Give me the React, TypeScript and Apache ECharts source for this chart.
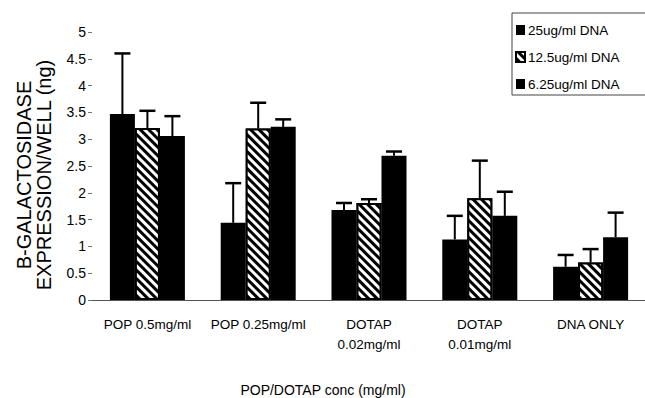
import React, { useEffect, useRef } from "react";
import * as echarts from "echarts";

const categories = ["POP 0.5mg/ml", "POP 0.25mg/ml", "DOTAP\n0.02mg/ml", "DOTAP\n0.01mg/ml", "DNA ONLY"];
const seriesNames = ["25ug/ml DNA", "12.5ug/ml DNA", "6.25ug/ml DNA"];
const means25 = [3.47, 1.44, 1.68, 1.13, 0.62];
const errs25 = [1.13, 0.74, 0.13, 0.44, 0.22];
const means125 = [3.21, 3.2, 1.81, 1.9, 0.7];
const errs125 = [0.32, 0.48, 0.07, 0.7, 0.25];
const means625 = [3.06, 3.23, 2.69, 1.57, 1.17];
const errs625 = [0.37, 0.14, 0.08, 0.45, 0.46];
const yTicks = { min: 0, max: 5, interval: 0.5 };

const FONT = "'Liberation Sans', Arial, sans-serif";
const BAR_W = 25;

export default function App() {
  const ref = useRef<HTMLDivElement>(null);
  useEffect(() => {
    if (!ref.current) return;
    const chart = echarts.init(ref.current, undefined, { renderer: "svg" });
    const allMeans = [means25, means125, means625];
    const allErrs = [errs25, errs125, errs625];
    const offsets = [-BAR_W, 0, BAR_W];
    const hatch = {
      symbol: "rect",
      symbolSize: 1,
      color: "#fff",
      dashArrayX: [1, 0],
      dashArrayY: [3, 2.5],
      rotation: Math.PI / 4,
    };
    const barSeries = allMeans.map((m, k) => ({
      name: seriesNames[k],
      type: "bar",
      data: m,
      barWidth: BAR_W,
      barGap: "0%",
      itemStyle: k === 1
        ? { color: "#000", borderColor: "#000", borderWidth: 2, decal: hatch }
        : { color: "#000" },
      emphasis: { disabled: true },
      z: 2,
    }));
    const errSeries = allMeans.map((m, k) => ({
      name: "err" + k,
      type: "custom",
      z: 3,
      encode: { x: 0, y: [1, 2] },
      data: m.map((v, i) => [i, v, v + allErrs[k][i]]),
      renderItem: (params: any, api: any) => {
        const i = api.value(0);
        const v = api.value(1);
        const top = api.value(2);
        const p0 = api.coord([i, v]);
        const p1 = api.coord([i, top]);
        const cx = p0[0] + offsets[k];
        return {
          type: "group",
          children: [
            { type: "line", shape: { x1: cx, y1: p0[1], x2: cx, y2: p1[1] }, style: { stroke: "#000", lineWidth: 2 } },
            { type: "line", shape: { x1: cx - 8, y1: p1[1], x2: cx + 8, y2: p1[1] }, style: { stroke: "#000", lineWidth: 2.5 } },
          ],
        };
      },
    }));
    chart.setOption({
      animation: false,
      backgroundColor: "#fff",
      textStyle: { fontFamily: FONT },
      grid: { left: 92, right: -1, top: 32, bottom: 98, containLabel: false, outerBoundsMode: "none" },
      legend: {
        data: seriesNames,
        orient: "vertical",
        left: 512,
        top: 13,
        itemWidth: 9,
        itemHeight: 10,
        itemGap: 13,
        icon: "rect",
        borderColor: "#444",
        borderWidth: 1,
        padding: [10, 50, 4, 3],
        textStyle: { fontFamily: FONT, fontSize: 13.5, color: "#000", padding: [0, 0, 0, -2] },
      },
      xAxis: {
        type: "category",
        data: categories,
        name: "POP/DOTAP conc (mg/ml)",
        nameLocation: "middle",
        nameGap: 83,
        nameTextStyle: { fontFamily: FONT, fontSize: 14, color: "#000", padding: [0, 92, 0, 0] },
        axisLine: { lineStyle: { color: "#555", width: 1 } },
        axisTick: { show: false },
        axisLabel: { fontFamily: FONT, fontSize: 13.5, color: "#000", margin: 14, lineHeight: 20, interval: 0 },
      },
      yAxis: {
        type: "value",
        min: yTicks.min,
        max: yTicks.max,
        interval: yTicks.interval,
        name: "B-GALACTOSIDASE\nEXPRESSION/WELL (ng)",
        nameLocation: "middle",
        nameGap: 38,
        nameRotate: 90,
        nameTextStyle: { fontFamily: FONT, fontSize: 20, color: "#000", lineHeight: 20, padding: [0, 18, 0, 0] },
        axisLine: { show: false },
        axisTick: { show: true, length: 4, lineStyle: { color: "#777" } },
        splitLine: { show: false },
        axisLabel: { fontFamily: FONT, fontSize: 14, color: "#000", margin: 6 },
      },
      series: [...barSeries, ...errSeries],
    });
    return () => chart.dispose();
  }, []);
  return (
    <div
      ref={ref}
      style={{ position: "absolute", left: 0, top: 0, width: 645, height: 398, background: "#fff" }}
    />
  );
}
